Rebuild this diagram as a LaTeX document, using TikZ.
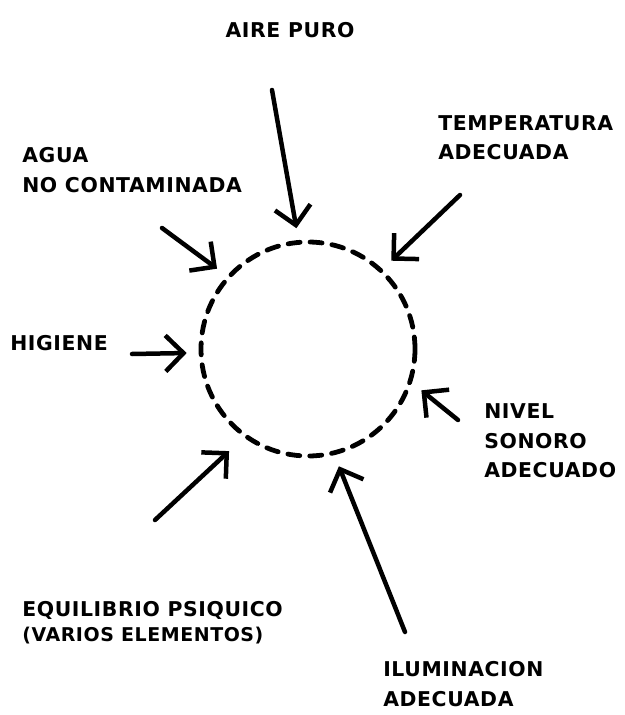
\documentclass[tikz,border=0pt]{standalone}
\usepackage{fontspec}
\setmainfont{DejaVu Sans}[LetterSpace=3]
\usetikzlibrary{arrows.meta}
\definecolor{sketchInk}{HTML}{000000}

\tikzset{
  lbl/.style={anchor=west,inner sep=0pt,align=left,text=sketchInk,
              font=\fontsize{14.5}{21}\selectfont\bfseries},
  inarrow/.style={sketchInk,line width=3.2pt,line cap=round,
                  -{Straight Barb[length=4.5mm,width=9mm,line width=3.2pt]},
                  shorten >=3mm},
}

\begin{document}
\begin{tikzpicture}
  \useasboundingbox (0,0) rectangle (15.625,-17.875);
  \node[circle,draw=sketchInk,line width=3.4pt,dash pattern=on 0.3cm off 0.25cm,
        line cap=round,minimum size=5.35cm,inner sep=0pt] (salud) at (7.7,-8.725) {};

  \node[lbl,anchor=center] (aire) at (7.25,-0.75) {AIRE PURO};
  \node[lbl] (temp) at (10.95,-3.44) {TEMPERATURA\\ADECUADA};
  \node[lbl] (agua) at (0.55,-4.25) {AGUA\\NO CONTAMINADA};
  \node[lbl] (higiene) at (0.25,-8.575) {HIGIENE};
  \node[lbl] (nivel) at (12.1,-11.025) {NIVEL\\SONORO\\ADECUADO};
  \node[lbl] (equil) at (0.55,-15.575) {EQUILIBRIO PSIQUICO\\[-3pt]
    {\fontsize{13.5}{15}\selectfont (VARIOS ELEMENTOS)}};
  \node[lbl] (ilum) at (9.575,-17.1) {ILUMINACION\\ADECUADA};

  \coordinate (aireT) at (6.8,-2.25);
  \coordinate (tempT) at (11.5,-4.875);
  \coordinate (aguaT) at (4.05,-5.7);
  \coordinate (higieneT) at (3.3,-8.85);
  \coordinate (nivelT) at (11.45,-10.5);
  \coordinate (equilT) at (3.875,-13.0);
  \coordinate (ilumT) at (10.125,-15.8);

  \draw[inarrow] (aireT) -- (salud.95);
  \draw[inarrow] (tempT) -- (salud.47);
  \draw[inarrow] (aguaT) -- (salud.138);
  \draw[inarrow] (higieneT) -- (salud.182);
  \draw[inarrow] (nivelT) -- (salud.-18);
  \draw[inarrow,shorten >=5mm] (equilT) -- (salud.-126);
  \draw[inarrow] (ilumT) -- (salud.-76);
\end{tikzpicture}
\end{document}
